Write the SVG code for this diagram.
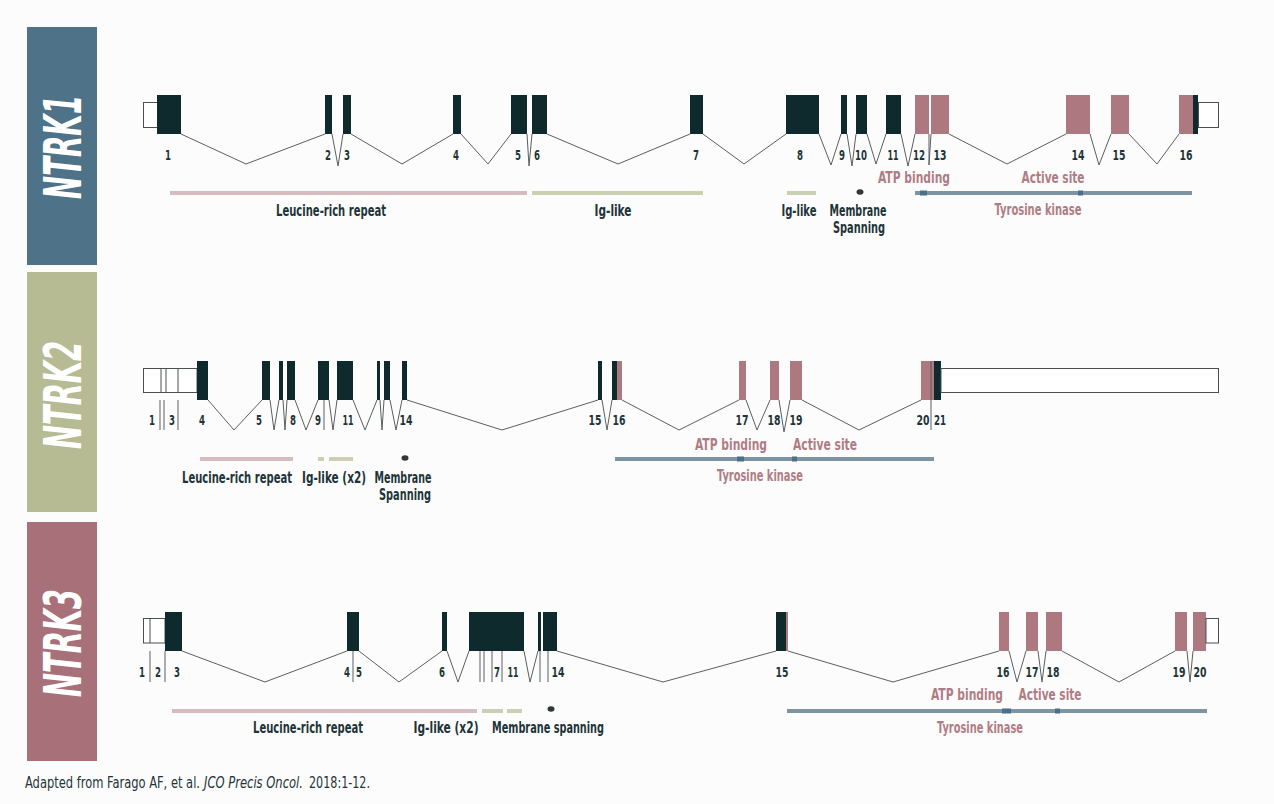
<svg xmlns="http://www.w3.org/2000/svg" width="1274" height="804" viewBox="0 0 1274 804">
<defs>
<style>
.bg{fill:#fcfcfc}
.ex{fill:#0f2a2c}
.pk{fill:#ae7880}
.utr{fill:#ffffff;stroke:#4a4f50;stroke-width:1}
.in{fill:none;stroke:#5a5f60;stroke-width:1}
.t{font-family:"DejaVu Sans Condensed","DejaVu Sans",sans-serif;font-stretch:condensed;font-weight:bold}
.num{font-size:14px;fill:#1e3438;text-anchor:middle}
.lab{font-size:16px;fill:#1e3438;text-anchor:middle}
.plab{font-size:16px;fill:#b07c84;text-anchor:middle}
.gene{font-size:52px;fill:#ffffff;font-style:italic;text-anchor:middle}
.foot{font-family:"DejaVu Sans Condensed","DejaVu Sans",sans-serif;font-stretch:condensed;font-size:16px;fill:#1e3438}
.lrr{stroke:#d6bcbe;stroke-width:4}
.ig{stroke:#cdcfb3;stroke-width:4}
.tk{stroke:#7d95a3;stroke-width:4}
.sq{fill:#4b6f86}
.dot{fill:#333638}
</style>
</defs>
<rect class="bg" x="0" y="0" width="1274" height="804"/>

<g id="panel-ntrk1">
<rect x="27" y="27" width="70" height="238" fill="#4e7389"/>
<text class="t gene" transform="translate(81,147) rotate(-90) scale(0.6,1)" textLength="173" lengthAdjust="spacingAndGlyphs">NTRK1</text>
</g>
<g id="panel-ntrk2">
<rect x="27" y="272" width="70" height="240" fill="#b6bb93"/>
<text class="t gene" transform="translate(81,395) rotate(-90) scale(0.6,1)" textLength="180" lengthAdjust="spacingAndGlyphs">NTRK2</text>
</g>
<g id="panel-ntrk3">
<rect x="27" y="522" width="70" height="239" fill="#a8717a"/>
<text class="t gene" transform="translate(81,643) rotate(-90) scale(0.6,1)" textLength="180" lengthAdjust="spacingAndGlyphs">NTRK3</text>
</g>

<g id="connectors">
<polyline class="in" points="181,134 246,164 325,134"/>
<polyline class="in" points="332,134 338,166 343,134"/>
<polyline class="in" points="351,134 402,164 453,134"/>
<polyline class="in" points="461,134 488,164 511,134"/>
<polyline class="in" points="527,134 529,166 532,134"/>
<polyline class="in" points="547,134 618,164 690,134"/>
<polyline class="in" points="703,134 744,164 786,134"/>
<polyline class="in" points="819,134 831,165 841,134"/>
<polyline class="in" points="847,134 852,166 856,134"/>
<polyline class="in" points="867,134 876,164 886,134"/>
<polyline class="in" points="901,134 908,166 915,134"/>
<polyline class="in" points="929,134 929,165 931,134"/>
<polyline class="in" points="949,134 1007,164 1066,134"/>
<polyline class="in" points="1090,134 1099,165 1111,134"/>
<polyline class="in" points="1129,134 1157,164 1179,134"/>
<line class="in" x1="160" y1="400" x2="160" y2="430"/>
<line class="in" x1="164" y1="400" x2="164" y2="430"/>
<line class="in" x1="178" y1="400" x2="178" y2="430"/>
<polyline class="in" points="208,400 234,430 262,400"/>
<polyline class="in" points="270,400 274,430 279,400"/>
<polyline class="in" points="283,400 285,430 287,400"/>
<polyline class="in" points="295,400 306,430 318,400"/>
<line class="in" x1="324" y1="400" x2="324" y2="430"/>
<polyline class="in" points="329,400 333,430 337,400"/>
<polyline class="in" points="353,400 365,430 377,400"/>
<polyline class="in" points="380,400 382,430 384,400"/>
<polyline class="in" points="390,400 396,430 402,400"/>
<polyline class="in" points="407,400 502,430 598,400"/>
<polyline class="in" points="602,400 607,430 612,400"/>
<polyline class="in" points="622,400 679,430 739,400"/>
<polyline class="in" points="746,400 757,430 770,400"/>
<polyline class="in" points="779,400 784,432 790,400"/>
<polyline class="in" points="802,400 859,430 921,400"/>
<line class="in" x1="150" y1="651" x2="150" y2="682"/>
<line class="in" x1="165" y1="651" x2="165" y2="682"/>
<polyline class="in" points="182,651 265,682 347,651"/>
<line class="in" x1="353" y1="651" x2="353" y2="682"/>
<polyline class="in" points="359,651 399,682 442,651"/>
<polyline class="in" points="447,651 458,682 469,651"/>
<line class="in" x1="480" y1="651" x2="480" y2="682"/>
<line class="in" x1="484" y1="651" x2="484" y2="682"/>
<line class="in" x1="492" y1="651" x2="492" y2="682"/>
<line class="in" x1="502" y1="651" x2="502" y2="682"/>
<polyline class="in" points="524,651 530,682 538,651"/>
<line class="in" x1="540" y1="651" x2="540" y2="682"/>
<line class="in" x1="548" y1="651" x2="548" y2="682"/>
<polyline class="in" points="557,651 663,682 776,651"/>
<polyline class="in" points="788,651 893,682 999,651"/>
<polyline class="in" points="1009,651 1017,682 1026,651"/>
<polyline class="in" points="1038,651 1042,682 1046,651"/>
<polyline class="in" points="1062,651 1119,682 1175,651"/>
<polyline class="in" points="1187,651 1190,682 1193,651"/>
</g>

<g id="gene-ntrk1">
<rect class="utr" x="143.5" y="102.5" width="14" height="25"/>
<rect class="ex" x="157" y="95" width="24" height="39"/>
<rect class="ex" x="325" y="95" width="7" height="39"/>
<rect class="ex" x="343" y="95" width="8" height="39"/>
<rect class="ex" x="453" y="95" width="8" height="39"/>
<rect class="ex" x="511" y="95" width="16" height="39"/>
<rect class="ex" x="532" y="95" width="15" height="39"/>
<rect class="ex" x="690" y="95" width="13" height="39"/>
<rect class="ex" x="786" y="95" width="33" height="39"/>
<rect class="ex" x="841" y="95" width="6" height="39"/>
<rect class="ex" x="856" y="95" width="11" height="39"/>
<rect class="ex" x="886" y="95" width="15" height="39"/>
<rect class="pk" x="915" y="95" width="14" height="39"/>
<rect class="pk" x="931" y="95" width="18" height="39"/>
<rect class="pk" x="1066" y="95" width="24" height="39"/>
<rect class="pk" x="1111" y="95" width="18" height="39"/>
<rect class="pk" x="1179" y="95" width="14" height="39"/>
<rect class="ex" x="1193" y="95" width="5" height="39"/>
<rect class="utr" x="1198.5" y="102.5" width="20" height="25"/>
<g class="t num">
<text transform="translate(168,160) scale(0.68,1)" textLength="8.8" lengthAdjust="spacingAndGlyphs">1</text>
<text transform="translate(328,160) scale(0.68,1)" textLength="8.8" lengthAdjust="spacingAndGlyphs">2</text>
<text transform="translate(347,160) scale(0.68,1)" textLength="8.8" lengthAdjust="spacingAndGlyphs">3</text>
<text transform="translate(456,160) scale(0.68,1)" textLength="8.8" lengthAdjust="spacingAndGlyphs">4</text>
<text transform="translate(518,160) scale(0.68,1)" textLength="8.8" lengthAdjust="spacingAndGlyphs">5</text>
<text transform="translate(537,160) scale(0.68,1)" textLength="8.8" lengthAdjust="spacingAndGlyphs">6</text>
<text transform="translate(696,160) scale(0.68,1)" textLength="8.8" lengthAdjust="spacingAndGlyphs">7</text>
<text transform="translate(800,160) scale(0.68,1)" textLength="8.8" lengthAdjust="spacingAndGlyphs">8</text>
<text transform="translate(842,160) scale(0.68,1)" textLength="8.8" lengthAdjust="spacingAndGlyphs">9</text>
<text transform="translate(861,160) scale(0.68,1)" textLength="17.6" lengthAdjust="spacingAndGlyphs">10</text>
<text transform="translate(893,160) scale(0.68,1)" textLength="16.2" lengthAdjust="spacingAndGlyphs">11</text>
<text transform="translate(919,160) scale(0.68,1)" textLength="17.6" lengthAdjust="spacingAndGlyphs">12</text>
<text transform="translate(940,160) scale(0.68,1)" textLength="19.1" lengthAdjust="spacingAndGlyphs">13</text>
<text transform="translate(1078,160) scale(0.68,1)" textLength="19.1" lengthAdjust="spacingAndGlyphs">14</text>
<text transform="translate(1119,160) scale(0.68,1)" textLength="19.1" lengthAdjust="spacingAndGlyphs">15</text>
<text transform="translate(1186,160) scale(0.68,1)" textLength="19.1" lengthAdjust="spacingAndGlyphs">16</text>
</g>
</g>

<g id="domains-ntrk1">
<line class="lrr" x1="170" y1="193" x2="527" y2="193"/>
<line class="ig" x1="532" y1="193" x2="703" y2="193"/>
<line class="ig" x1="787" y1="193" x2="816" y2="193"/>
<ellipse class="dot" cx="860" cy="192" rx="3.5" ry="2.8"/>
<line class="tk" x1="915" y1="193" x2="1192" y2="193"/>
<rect class="sq" x="920" y="190.5" width="7" height="5"/>
<rect class="sq" x="1078" y="190.5" width="5" height="5"/>
<g class="t">
<text class="lab" transform="translate(331,216) scale(0.7,1)" textLength="157.1" lengthAdjust="spacingAndGlyphs">Leucine-rich repeat</text>
<text class="lab" transform="translate(613,216) scale(0.7,1)" textLength="52.9" lengthAdjust="spacingAndGlyphs">Ig-like</text>
<text class="lab" transform="translate(799,216) scale(0.7,1)" textLength="50" lengthAdjust="spacingAndGlyphs">Ig-like</text>
<text class="lab" transform="translate(858,216) scale(0.7,1)" textLength="81.4" lengthAdjust="spacingAndGlyphs">Membrane</text>
<text class="lab" transform="translate(859,233) scale(0.7,1)" textLength="74.3" lengthAdjust="spacingAndGlyphs">Spanning</text>
<text class="plab" transform="translate(914,183) scale(0.7,1)" textLength="102.9" lengthAdjust="spacingAndGlyphs">ATP binding</text>
<text class="plab" transform="translate(1053,183) scale(0.7,1)" textLength="90" lengthAdjust="spacingAndGlyphs">Active site</text>
<text class="plab" transform="translate(1038,215) scale(0.7,1)" textLength="124.3" lengthAdjust="spacingAndGlyphs">Tyrosine kinase</text>
</g>
</g>

<g id="gene-ntrk2">
<rect class="utr" x="143.5" y="368.5" width="53.5" height="24"/>
<line class="utr" x1="161" y1="368.5" x2="161" y2="392.5"/>
<line class="utr" x1="166" y1="368.5" x2="166" y2="392.5"/>
<line class="utr" x1="178" y1="368.5" x2="178" y2="392.5"/>
<rect class="ex" x="197" y="361" width="11" height="39"/>
<rect class="ex" x="262" y="361" width="8" height="39"/>
<rect class="ex" x="279" y="361" width="4" height="39"/>
<rect class="ex" x="287" y="361" width="8" height="39"/>
<rect class="ex" x="318" y="361" width="11" height="39"/>
<rect class="ex" x="337" y="361" width="16" height="39"/>
<rect class="ex" x="377" y="361" width="3" height="39"/>
<rect class="ex" x="384" y="361" width="6" height="39"/>
<rect class="ex" x="402" y="361" width="5" height="39"/>
<rect class="ex" x="598" y="361" width="4" height="39"/>
<rect class="ex" x="612" y="361" width="5" height="39"/>
<rect class="pk" x="617" y="361" width="5" height="39"/>
<rect class="pk" x="739" y="361" width="7" height="39"/>
<rect class="pk" x="770" y="361" width="9" height="39"/>
<rect class="pk" x="790" y="361" width="12" height="39"/>
<rect class="pk" x="921" y="361" width="13" height="39"/>
<line class="in" x1="931" y1="361" x2="931" y2="430"/>
<rect class="ex" x="934" y="361" width="7" height="39"/>
<rect class="utr" x="941" y="368.5" width="277.5" height="24"/>
<g class="t num">
<text transform="translate(152,425) scale(0.68,1)" textLength="8.8" lengthAdjust="spacingAndGlyphs">1</text>
<text transform="translate(172,425) scale(0.68,1)" textLength="8.8" lengthAdjust="spacingAndGlyphs">3</text>
<text transform="translate(202,425) scale(0.68,1)" textLength="8.8" lengthAdjust="spacingAndGlyphs">4</text>
<text transform="translate(259,425) scale(0.68,1)" textLength="8.8" lengthAdjust="spacingAndGlyphs">5</text>
<text transform="translate(293,425) scale(0.68,1)" textLength="8.8" lengthAdjust="spacingAndGlyphs">8</text>
<text transform="translate(318,425) scale(0.68,1)" textLength="8.8" lengthAdjust="spacingAndGlyphs">9</text>
<text transform="translate(348,425) scale(0.68,1)" textLength="16.2" lengthAdjust="spacingAndGlyphs">11</text>
<text transform="translate(406,425) scale(0.68,1)" textLength="19.1" lengthAdjust="spacingAndGlyphs">14</text>
<text transform="translate(595,425) scale(0.68,1)" textLength="19.1" lengthAdjust="spacingAndGlyphs">15</text>
<text transform="translate(619,425) scale(0.68,1)" textLength="19.1" lengthAdjust="spacingAndGlyphs">16</text>
<text transform="translate(742,425) scale(0.68,1)" textLength="19.1" lengthAdjust="spacingAndGlyphs">17</text>
<text transform="translate(774,425) scale(0.68,1)" textLength="19.1" lengthAdjust="spacingAndGlyphs">18</text>
<text transform="translate(796,425) scale(0.68,1)" textLength="19.1" lengthAdjust="spacingAndGlyphs">19</text>
<text transform="translate(923,425) scale(0.68,1)" textLength="19.1" lengthAdjust="spacingAndGlyphs">20</text>
<text transform="translate(940,425) scale(0.68,1)" textLength="17.6" lengthAdjust="spacingAndGlyphs">21</text>
</g>
</g>

<g id="domains-ntrk2">
<line class="lrr" x1="200" y1="459" x2="293" y2="459"/>
<line class="ig" x1="318" y1="459" x2="324" y2="459"/>
<line class="ig" x1="329" y1="459" x2="353" y2="459"/>
<ellipse class="dot" cx="405" cy="458" rx="3.5" ry="2.8"/>
<line class="tk" x1="615" y1="459" x2="934" y2="459"/>
<rect class="sq" x="737" y="456.5" width="7" height="5"/>
<rect class="sq" x="792" y="456.5" width="5" height="5"/>
<g class="t">
<text class="lab" transform="translate(237,483) scale(0.7,1)" textLength="157.1" lengthAdjust="spacingAndGlyphs">Leucine-rich repeat</text>
<text class="lab" transform="translate(334,483) scale(0.7,1)" textLength="91.4" lengthAdjust="spacingAndGlyphs">Ig-like (x2)</text>
<text class="lab" transform="translate(403,483) scale(0.7,1)" textLength="81.4" lengthAdjust="spacingAndGlyphs">Membrane</text>
<text class="lab" transform="translate(405,500) scale(0.7,1)" textLength="74.3" lengthAdjust="spacingAndGlyphs">Spanning</text>
<text class="plab" transform="translate(731,450) scale(0.7,1)" textLength="102.9" lengthAdjust="spacingAndGlyphs">ATP binding</text>
<text class="plab" transform="translate(825,450) scale(0.7,1)" textLength="91.4" lengthAdjust="spacingAndGlyphs">Active site</text>
<text class="plab" transform="translate(760,481) scale(0.7,1)" textLength="122.9" lengthAdjust="spacingAndGlyphs">Tyrosine kinase</text>
</g>
</g>

<g id="gene-ntrk3">
<rect class="utr" x="143.5" y="618.5" width="21.5" height="24.5"/>
<line class="utr" x1="150" y1="618.5" x2="150" y2="643"/>
<rect class="ex" x="165" y="612" width="17" height="39"/>
<rect class="ex" x="347" y="612" width="12" height="39"/>
<rect class="ex" x="442" y="612" width="5" height="39"/>
<rect class="ex" x="469" y="612" width="55" height="39"/>
<rect class="ex" x="538" y="612" width="3" height="39"/>
<rect class="ex" x="543" y="612" width="14" height="39"/>
<rect class="ex" x="776" y="612" width="10" height="39"/>
<rect class="pk" x="786" y="612" width="2" height="39"/>
<rect class="pk" x="999" y="612" width="10" height="39"/>
<rect class="pk" x="1026" y="612" width="12" height="39"/>
<rect class="pk" x="1046" y="612" width="16" height="39"/>
<rect class="pk" x="1175" y="612" width="12" height="39"/>
<rect class="pk" x="1193" y="612" width="13" height="39"/>
<rect class="utr" x="1206" y="618.5" width="12.5" height="24.5"/>
<g class="t num">
<text transform="translate(142,677) scale(0.68,1)" textLength="8.8" lengthAdjust="spacingAndGlyphs">1</text>
<text transform="translate(158,677) scale(0.68,1)" textLength="8.8" lengthAdjust="spacingAndGlyphs">2</text>
<text transform="translate(177,677) scale(0.68,1)" textLength="8.8" lengthAdjust="spacingAndGlyphs">3</text>
<text transform="translate(347,677) scale(0.68,1)" textLength="8.8" lengthAdjust="spacingAndGlyphs">4</text>
<text transform="translate(359,677) scale(0.68,1)" textLength="8.8" lengthAdjust="spacingAndGlyphs">5</text>
<text transform="translate(442,677) scale(0.68,1)" textLength="8.8" lengthAdjust="spacingAndGlyphs">6</text>
<text transform="translate(497,677) scale(0.68,1)" textLength="8.8" lengthAdjust="spacingAndGlyphs">7</text>
<text transform="translate(513,677) scale(0.68,1)" textLength="16.2" lengthAdjust="spacingAndGlyphs">11</text>
<text transform="translate(558,677) scale(0.68,1)" textLength="19.1" lengthAdjust="spacingAndGlyphs">14</text>
<text transform="translate(782,677) scale(0.68,1)" textLength="19.1" lengthAdjust="spacingAndGlyphs">15</text>
<text transform="translate(1003,677) scale(0.68,1)" textLength="19.1" lengthAdjust="spacingAndGlyphs">16</text>
<text transform="translate(1032,677) scale(0.68,1)" textLength="19.1" lengthAdjust="spacingAndGlyphs">17</text>
<text transform="translate(1053,677) scale(0.68,1)" textLength="19.1" lengthAdjust="spacingAndGlyphs">18</text>
<text transform="translate(1179,677) scale(0.68,1)" textLength="19.1" lengthAdjust="spacingAndGlyphs">19</text>
<text transform="translate(1200,677) scale(0.68,1)" textLength="19.1" lengthAdjust="spacingAndGlyphs">20</text>
</g>
</g>

<g id="domains-ntrk3">
<line class="lrr" x1="172" y1="711" x2="477" y2="711"/>
<line class="ig" x1="482" y1="711" x2="503" y2="711"/>
<line class="ig" x1="507" y1="711" x2="522" y2="711"/>
<ellipse class="dot" cx="551" cy="709" rx="3.5" ry="2.8"/>
<line class="tk" x1="787" y1="711" x2="1207" y2="711"/>
<rect class="sq" x="1002" y="708.5" width="9" height="5"/>
<rect class="sq" x="1055" y="708.5" width="5" height="5"/>
<g class="t">
<text class="lab" transform="translate(308,733) scale(0.7,1)" textLength="157.1" lengthAdjust="spacingAndGlyphs">Leucine-rich repeat</text>
<text class="lab" transform="translate(446,733) scale(0.7,1)" textLength="92.9" lengthAdjust="spacingAndGlyphs">Ig-like (x2)</text>
<text class="lab" transform="translate(548,733) scale(0.7,1)" textLength="160" lengthAdjust="spacingAndGlyphs">Membrane spanning</text>
<text class="plab" transform="translate(967,700) scale(0.7,1)" textLength="102.9" lengthAdjust="spacingAndGlyphs">ATP binding</text>
<text class="plab" transform="translate(1050,700) scale(0.7,1)" textLength="90" lengthAdjust="spacingAndGlyphs">Active site</text>
<text class="plab" transform="translate(980,733) scale(0.7,1)" textLength="122.9" lengthAdjust="spacingAndGlyphs">Tyrosine kinase</text>
</g>
</g>

<g id="footer">
<text class="foot" transform="translate(25,788) scale(0.79,1)" textLength="221.5" lengthAdjust="spacingAndGlyphs">Adapted from Farago AF, et al.</text>
<text class="foot" transform="translate(204,788) scale(0.79,1)" font-style="italic" textLength="125.3" lengthAdjust="spacingAndGlyphs">JCO Precis Oncol.</text>
<text class="foot" transform="translate(309,788) scale(0.79,1)" textLength="77.2" lengthAdjust="spacingAndGlyphs">2018:1-12.</text>
</g>
</svg>
